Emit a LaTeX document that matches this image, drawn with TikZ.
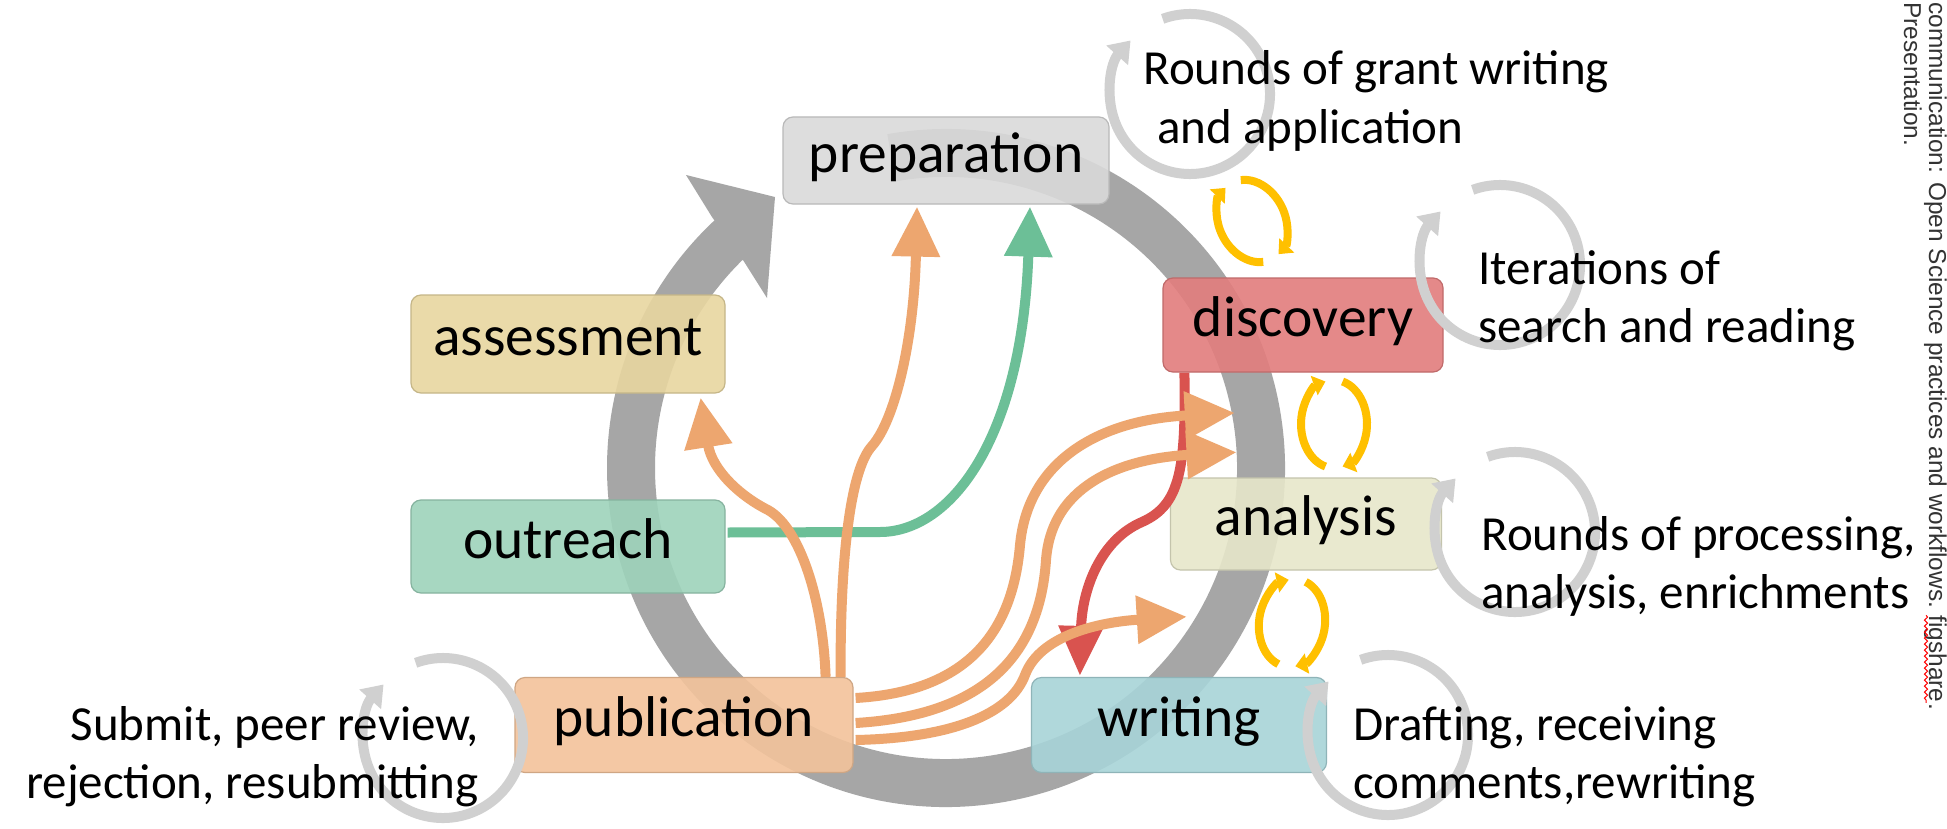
\documentclass[tikz,border=0pt]{standalone}
\usepackage{fontspec}
\setmainfont{Carlito}
\newfontfamily\credfont{Liberation Sans}
\usetikzlibrary{arrows.meta,calc,decorations.pathmorphing}

\definecolor{ringgray}{HTML}{A6A6A6}
\definecolor{loopgray}{HTML}{D0D0D0}
\definecolor{loopgold}{HTML}{FFC000}
\definecolor{linkorange}{HTML}{EDA66F}
\definecolor{linkgreen}{HTML}{6CBF97}
\definecolor{linkred}{HTML}{D9534F}
\definecolor{prepfill}{HTML}{DADADA}
\definecolor{assessfill}{HTML}{E8D6A0}
\definecolor{outreachfill}{HTML}{9ED3BB}
\definecolor{pubfill}{HTML}{F3C39B}
\definecolor{writefill}{HTML}{A8D4D8}
\definecolor{analysisfill}{HTML}{E7E7CA}
\definecolor{discfill}{HTML}{E27D7D}

\begin{document}
\begin{tikzpicture}[x=0.5pt, y=-0.5pt,
  stage/.style={rounded corners=5pt, inner sep=0pt, line width=0.6pt,
    fill opacity=0.9, text opacity=1,
    font=\fontsize{28.75}{34}\selectfont, text height=17.25pt, text depth=5.75pt},
  note/.style={font=\fontsize{24.5}{29}\selectfont, inner sep=0pt, anchor=base west},
  noteright/.style={note, anchor=base east},
  credit/.style={font=\credfont\fontsize{12.2}{14}\selectfont, text=black!80,
    inner sep=0pt, rotate=-90, anchor=base west},
  link/.style={line width=5pt, -{Triangle[width=23pt,length=25pt]}},
  orangelink/.style={link, draw=linkorange},
  loopcirc/.style={draw=loopgray, line width=5pt, -{Triangle[width=14pt,length=10pt]}},
  cycarc/.style={draw=loopgold, line width=4pt, -{Triangle[width=10pt,length=6pt]}}
]
\useasboundingbox (0,0) rectangle (1947,829);
\fill[white] (0,0) rectangle (1947,829);

% the big research cycle ring with its arrowhead
\coordinate (ringc) at (946,468);
\draw[ringgray, line width=24pt] ([shift={(-100:315)}]ringc)
  arc[start angle=-100, end angle=227, radius=315];
\fill[ringgray] (743,260) -- (767,298) -- (775,197) -- (686,175) -- (712,217) -- cycle;

% stages
\node[stage, fill=prepfill, draw=prepfill!85!black,
  minimum width=163pt, minimum height=43.5pt] (prep) at (946,160.5) {preparation};
\node[stage, fill=assessfill, draw=assessfill!85!black,
  minimum width=157pt, minimum height=49pt] (assess) at (568,344) {assessment};
\node[stage, fill=outreachfill, draw=outreachfill!85!black,
  minimum width=157pt, minimum height=46.5pt] (outreach) at (568,546.5) {outreach};
\node[stage, fill=pubfill, draw=pubfill!85!black,
  minimum width=169pt, minimum height=47.5pt] (pub) at (684,725) {publication};
\node[stage, fill=writefill, draw=writefill!85!black,
  minimum width=147.5pt, minimum height=47.5pt] (writing) at (1179,725) {writing};
\node[stage, fill=analysisfill, draw=analysisfill!85!black,
  minimum width=135.5pt, minimum height=46pt] (analysis) at (1306,524) {analysis};
\node[stage, fill=discfill, draw=discfill!85!black,
  minimum width=140pt, minimum height=47pt] (disc) at (1303,325) {discovery};

% free ends of the links that stop at the ring
\coordinate (hitA) at ($(ringc)+(-10.8:294)$);
\coordinate (hitB) at ($(ringc)+(-3.1:291)$);
\coordinate (hitC) at ($(ringc)+(31.7:283)$);

% discovery feeds writing
\draw[link, draw=linkred, -{Triangle[width=21.5pt,length=25pt]}]
  ($(disc.south west)+(22,0)$) .. controls (1186,470) and (1180,505) .. (1142,522)
  .. controls (1100,540) and (1082,590) .. ($(writing.north west)+(49,-1)$);

% outreach feeds preparation
\draw[link, draw=linkgreen] ($(outreach.east)+(2,-14)$) -- (880,532)
  .. controls (950,532) and (1022,440) .. ($(prep.south)+(84,2)$);

% publication feeds the other stages
\draw[orangelink] ($(pub.north east)+(-28,0)$) .. controls (823,600) and (800,528) .. (768,510)
  .. controls (740,496) and (712,470) .. ($(assess.south east)+(-25,4)$);
\draw[orangelink] ($(pub.north east)+(-13,0)$) .. controls (840,560) and (850,470) .. (872,446)
  .. controls (895,420) and (914,340) .. ($(prep.south)+(-29,2)$);
\draw[orangelink] ($(pub.east)+(2,-27)$) .. controls (960,692) and (1012,640) .. (1020,545)
  .. controls (1028,460) and (1100,420) .. (hitA);
\draw[orangelink] ($(pub.east)+(2,-2)$) .. controls (990,715) and (1040,650) .. (1046,560)
  .. controls (1052,480) and (1130,458) .. (hitB);
\draw[orangelink] ($(pub.east)+(2,15)$) .. controls (950,738) and (1010,715) .. (1025,675)
  .. controls (1040,635) and (1100,622) .. (hitC);

% small iteration cycles between neighbouring stages
\begin{scope}[shift={(1252,221)}, rotate=27]
  \draw[cycarc] (-75:33 and 43) arc[start angle=-75, end angle=75, x radius=33, y radius=43];
  \draw[cycarc] (105:33 and 43) arc[start angle=105, end angle=255, x radius=33, y radius=43];
\end{scope}
\begin{scope}[shift={(1334,424)}]
  \draw[cycarc] (-75:33 and 44) arc[start angle=-75, end angle=75, x radius=33, y radius=44];
  \draw[cycarc] (105:33 and 44) arc[start angle=105, end angle=255, x radius=33, y radius=44];
\end{scope}
\begin{scope}[shift={(1292,623)}, rotate=-7]
  \draw[cycarc] (-75:33 and 44) arc[start angle=-75, end angle=75, x radius=33, y radius=44];
  \draw[cycarc] (105:33 and 44) arc[start angle=105, end angle=255, x radius=33, y radius=44];
\end{scope}

% repeat loops beside the stages
\coordinate (loopgrant) at (1190,94);
\coordinate (loopsearch) at (1500,265);
\coordinate (loopproc) at (1515,532);
\coordinate (loopdraft) at (1388,735);
\coordinate (loopsubmit) at (443,738);
\foreach \c in {loopgrant,loopsearch,loopproc,loopdraft,loopsubmit}
  \draw[loopcirc] ([shift={(-110:80)}]\c) arc[start angle=-110, end angle=222, radius=80];

% notes
\node[note] (grantA) at (1143,85) {Rounds of grant writing};
\node[note] (grantB) at (1157,143) {and application};
\node[note] (searchA) at (1478,284) {Iterations of};
\node[note] (searchB) at (1478,342) {search and reading};
\node[note] (procA) at (1481,550) {Rounds of processing,};
\node[note] (procB) at (1481,608) {analysis, enrichments};
\node[note] (draftA) at (1353,740) {Drafting, receiving};
\node[note] (draftB) at (1353,798) {comments,rewriting};
\node[noteright] (submitA) at (479,740) {Submit, peer review,};
\node[noteright] (submitB) at (479,798) {rejection, resubmitting};

% source line along the right edge
\node[credit] (credA) at (1929,2) {communication: Open Science practices and workflows.};
\node[credit] (credB) at ($(credA.base east)+(0,6.7)$) {figshare};
\node[credit] (credC) at (credB.base east) {.};
\node[credit] (credD) at ($(credA.base west)+(-25,0)$) {Presentation.};
\draw[red, line width=0.5pt, decorate,
  decoration={snake, amplitude=0.8pt, segment length=3pt}]
  ($(credB.base west)+(-3,0)$) -- ($(credB.base east)+(-3,0)$);
\end{tikzpicture}
\end{document}
